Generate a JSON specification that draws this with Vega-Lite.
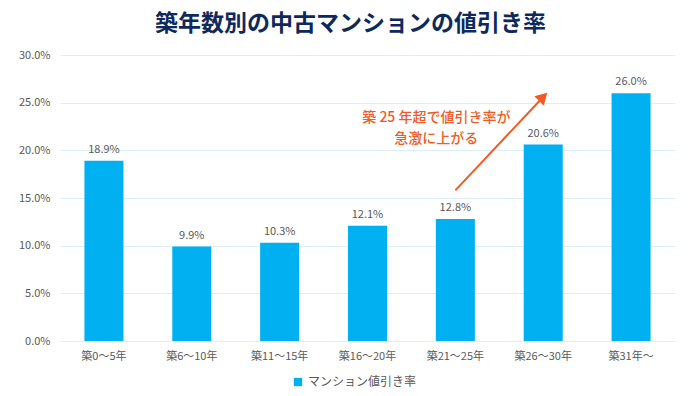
{
  "$schema": "https://vega.github.io/schema/vega-lite/v6.json",
  "width": 615,
  "height": 286,
  "autosize": {"type": "none"},
  "padding": {"left": 60, "top": 55, "right": 25, "bottom": 55},
  "background": "white",
  "config": {
    "view": {"stroke": null},
    "font": "Noto Sans CJK JP"
  },
  "title": {
    "text": "築年数別の中古マンションの値引き率",
    "fontSize": 23,
    "font": "Noto Sans CJK JP",
    "fontWeight": "bold",
    "color": "#0E2A5C",
    "anchor": "middle",
    "dx": -17,
    "offset": 13
  },
  "datasets": {
    "bars": [
      {"age": "築0～5年", "rate": 0.189},
      {"age": "築6～10年", "rate": 0.099},
      {"age": "築11～15年", "rate": 0.103},
      {"age": "築16～20年", "rate": 0.121},
      {"age": "築21～25年", "rate": 0.128},
      {"age": "築26～30年", "rate": 0.206},
      {"age": "築31年～", "rate": 0.26}
    ],
    "arrow": [
      {"from": "築21～25年", "to": "築26～30年", "y1": 0.158, "y2": 0.256}
    ],
    "note": [
      {"cat": "築21～25年", "y": 0.234, "text": "築 25 年超で値引き率が"},
      {"cat": "築21～25年", "y": 0.212, "text": "急激に上がる"}
    ]
  },
  "layer": [
    {
      "data": {"name": "bars"},
      "mark": {"type": "bar", "color": "#00B0F0"},
      "encoding": {
        "x": {
          "field": "age",
          "type": "nominal",
          "scale": {
            "domain": ["築0～5年", "築6～10年", "築11～15年", "築16～20年", "築21～25年", "築26～30年", "築31年～"],
            "paddingInner": 0.556,
            "paddingOuter": 0.278
          },
          "axis": {
            "title": null,
            "labelAngle": 0,
            "ticks": false,
            "domainColor": "#DCEFF8",
            "labelColor": "#595959",
            "labelFontSize": 11,
            "labelPadding": 9,
            "grid": false
          }
        },
        "y": {
          "field": "rate",
          "type": "quantitative",
          "scale": {"domain": [0, 0.3]},
          "axis": {
            "title": null,
            "values": [0, 0.05, 0.1, 0.15, 0.2, 0.25, 0.3],
            "format": ".1%",
            "domain": false,
            "ticks": false,
            "gridColor": "#DCEFF8",
            "labelColor": "#595959",
            "labelFontSize": 11,
            "labelPadding": 10
          }
        },
        "fill": {
          "datum": "マンション値引き率",
          "type": "nominal",
          "scale": {"range": ["#00B0F0"]},
          "legend": {
            "title": null,
            "orient": "none",
            "legendX": 232,
            "legendY": 321,
            "symbolType": "square",
            "symbolSize": 70,
            "symbolStrokeWidth": 0,
            "labelFontSize": 12,
            "labelColor": "#595959"
          }
        }
      }
    },
    {
      "data": {"name": "bars"},
      "mark": {"type": "text", "baseline": "bottom", "dy": -6, "fontSize": 11, "color": "#595959"},
      "encoding": {
        "x": {"field": "age", "type": "nominal"},
        "y": {"field": "rate", "type": "quantitative"},
        "text": {"field": "rate", "type": "quantitative", "format": ".1%"}
      }
    },
    {
      "data": {"name": "arrow"},
      "mark": {"type": "rule", "color": "#F15A24", "strokeWidth": 2},
      "encoding": {
        "x": {"field": "from", "type": "nominal"},
        "x2": {"field": "to"},
        "y": {"field": "y1", "type": "quantitative"},
        "y2": {"field": "y2"}
      }
    },
    {
      "data": {"name": "arrow"},
      "mark": {"type": "point", "shape": "triangle-up", "filled": true, "color": "#F15A24", "size": 180, "opacity": 1, "angle": 45},
      "encoding": {
        "x": {"field": "to", "type": "nominal"},
        "y": {"field": "y2", "type": "quantitative"}
      }
    },
    {
      "data": {"name": "note"},
      "mark": {"type": "text", "dx": -19, "fontSize": 14, "fontWeight": 500, "color": "#F15A24", "baseline": "middle"},
      "encoding": {
        "x": {"field": "cat", "type": "nominal"},
        "y": {"field": "y", "type": "quantitative"},
        "text": {"field": "text", "type": "nominal"}
      }
    }
  ]
}
